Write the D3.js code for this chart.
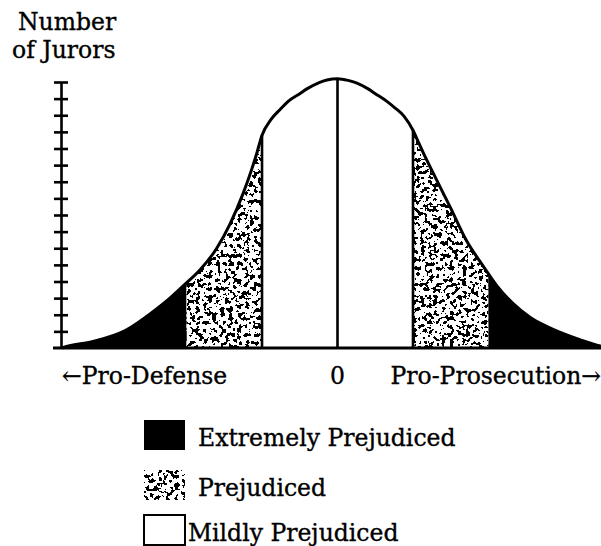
<!DOCTYPE html>
<html>
<head>
<meta charset="utf-8">
<script src="https://cdn.jsdelivr.net/npm/d3@7"></script>
<style>
  body { margin: 0; background: #fff; }
  text { font-family: "DejaVu Serif", serif; fill: #000; stroke: #000; stroke-width: 0.35px; }
</style>
</head>
<body>
<svg id="chart" width="601" height="546"></svg>
<script>
// curve: score (in boundary units) -> number of jurors (tick units)
const scores = [-3.65, -3.6, -3.25, -2.8, -2.44, -2.22, -2.04, -1.82, -1.6, -1.42, -1.25, -1.14, -1.07, -1.0,
                -0.88, -0.76, -0.65, -0.5, -0.4, -0.25, -0.14, 0,
                0.14, 0.25, 0.4, 0.5, 0.65, 0.76, 0.88, 1.0, 1.07, 1.14, 1.27, 1.49, 1.71, 1.93, 2.11, 2.32,
                2.55, 2.77, 3.21, 3.48, 3.65];
const jurors = [0, 0.08, 0.38, 1.08, 2.2, 3.0, 3.75, 4.7, 6.0, 7.5, 9.3, 10.7, 11.7, 12.8,
                13.75, 14.35, 14.85, 15.3, 15.6, 15.95, 16.12, 16.2,
                16.1, 15.95, 15.6, 15.3, 14.85, 14.45, 13.95, 13.1, 12.4, 11.7, 10.5, 8.5, 6.45, 4.93, 3.75, 2.7,
                1.85, 1.3, 0.5, 0.12, 0];
const yTicks = [1, 2, 3, 4, 5, 6, 7, 8, 9, 10, 11, 12, 13, 14, 15, 16];

// shaded bands
const bandStart = [-3.65, -2, -1, 1, 2];
const bandEnd   = [-2, -1, 1, 2, 3.65];
const bandType  = ["extreme", "prejudiced", "mild", "prejudiced", "extreme"];
const dividers = [-1, 0, 1];

const legendLabels = ["Extremely Prejudiced", "Prejudiced", "Mildly Prejudiced"];
const legendTypes = ["extreme", "prejudiced", "mild"];
const axisLabels = ["\u2190Pro-Defense", "0", "Pro-Prosecution\u2192"];

const svg = d3.select("#chart");

let x = d3.scaleLinear().domain([-3.65, 3.65]).range([62, 613]);
let y = d3.scaleLinear().domain([0, 16]).range([348, 82]);

let pts = scores.map((s, i) => ({s: s, n: jurors[i]}));

// stipple texture
let defs = svg.append("defs");
let filt = defs.append("filter").attr("id", "stipple")
    .attr("x", 0).attr("y", 0).attr("width", 1).attr("height", 1);
filt.append("feTurbulence")
    .attr("type", "fractalNoise")
    .attr("baseFrequency", 0.24)
    .attr("numOctaves", 2)
    .attr("seed", 11)
    .attr("result", "noise");
filt.append("feColorMatrix")
    .attr("in", "noise")
    .attr("type", "matrix")
    .attr("values", "0 0 0 0 0  0 0 0 0 0  0 0 0 0 0  1 0 0 0 0")
    .attr("result", "a");
let table = [];
for (let k = 0; k < 20; k++) table.push(k < 11 ? 0 : 1);
filt.append("feComponentTransfer").attr("in", "a").attr("result", "dots")
    .append("feFuncA").attr("type", "discrete").attr("tableValues", table.join(" "));
filt.append("feFlood").attr("flood-color", "#fff").attr("result", "w");
filt.append("feComposite").attr("in", "dots").attr("in2", "w").attr("operator", "over").attr("result", "tex");
filt.append("feComposite").attr("in", "tex").attr("in2", "SourceGraphic").attr("operator", "in");

function styleFill(sel, type) {
    if (type == "extreme") sel.attr("fill", "#000");
    else if (type == "prejudiced") sel.attr("fill", "#fff").attr("filter", "url(#stipple)");
    else sel.attr("fill", "#fff");
    return sel;
}

let area = d3.area()
    .x(d => x(d.s))
    .y0(y(0))
    .y1(d => y(d.n))
    .curve(d3.curveMonotoneX);

let line = d3.line()
    .x(d => x(d.s))
    .y(d => y(d.n))
    .curve(d3.curveMonotoneX);

// bands, each clipped out of the full area
bandStart.forEach(function(lo, i) {
    defs.append("clipPath").attr("id", "band" + i)
        .append("rect")
        .attr("x", x(lo))
        .attr("y", 0)
        .attr("width", x(bandEnd[i]) - x(lo))
        .attr("height", y(0) + 1);
    svg.append("g")
        .attr("clip-path", "url(#band" + i + ")")
        .append("path")
        .datum(pts)
        .attr("d", area)
        .call(styleFill, bandType[i]);
});

// vertical dividers from baseline up to the curve
dividers.forEach(function(s) {
    let n = jurors[scores.indexOf(s)];
    svg.append("line")
        .attr("x1", x(s)).attr("x2", x(s))
        .attr("y1", y(0)).attr("y2", y(n))
        .attr("stroke", "#000")
        .attr("stroke-width", 2.6);
});

// the curve
svg.append("path")
    .datum(pts)
    .attr("d", line)
    .attr("fill", "none")
    .attr("stroke", "#000")
    .attr("stroke-width", 3)
    .style("stroke-linejoin", "round");

// baseline
svg.append("line")
    .attr("x1", 53).attr("x2", 601)
    .attr("y1", y(0)).attr("y2", y(0))
    .attr("stroke", "#000")
    .attr("stroke-width", 3);

// y axis with ticks crossing the line
let yAxis = svg.append("g")
    .attr("transform", "translate(61,0)")
    .call(d3.axisLeft(y).tickValues(yTicks).tickSize(7).tickSizeOuter(0).tickFormat(""));
yAxis.select(".domain").attr("stroke-width", 2.6);
yAxis.selectAll(".tick line")
    .attr("x1", -7).attr("x2", 7)
    .attr("stroke-width", 2.6);

// axis title
svg.append("text").attr("x", 18).attr("y", 30).text("Number").style("font-size", "23.5px");
svg.append("text").attr("x", 12).attr("y", 58).text("of Jurors").style("font-size", "23.5px");

// x labels
svg.append("text").attr("x", 62).attr("y", 384).text(axisLabels[0])
    .style("font-size", "23.5px");
svg.append("text").attr("x", x(0)).attr("y", 384).text(axisLabels[1])
    .style("font-size", "23.5px").style("text-anchor", "middle");
svg.append("text").attr("x", 601).attr("y", 384).text(axisLabels[2])
    .style("font-size", "23.5px").style("text-anchor", "end");

// legend
let legendY = [420, 470, 515];
legendLabels.forEach(function(label, i) {
    let r = svg.append("rect")
        .attr("x", 144).attr("y", legendY[i])
        .attr("width", 41).attr("height", 30);
    if (legendTypes[i] == "mild") {
        r.attr("fill", "#fff").attr("stroke", "#000").attr("stroke-width", 2);
    } else {
        styleFill(r, legendTypes[i]);
        if (legendTypes[i] == "prejudiced") r.attr("stroke", "#000").attr("stroke-width", 1.5);
    }
    svg.append("text")
        .attr("x", legendTypes[i] == "mild" ? 188 : 198)
        .attr("y", legendY[i] + 26)
        .text(label)
        .style("font-size", "23.5px");
});
</script>
</body>
</html>
